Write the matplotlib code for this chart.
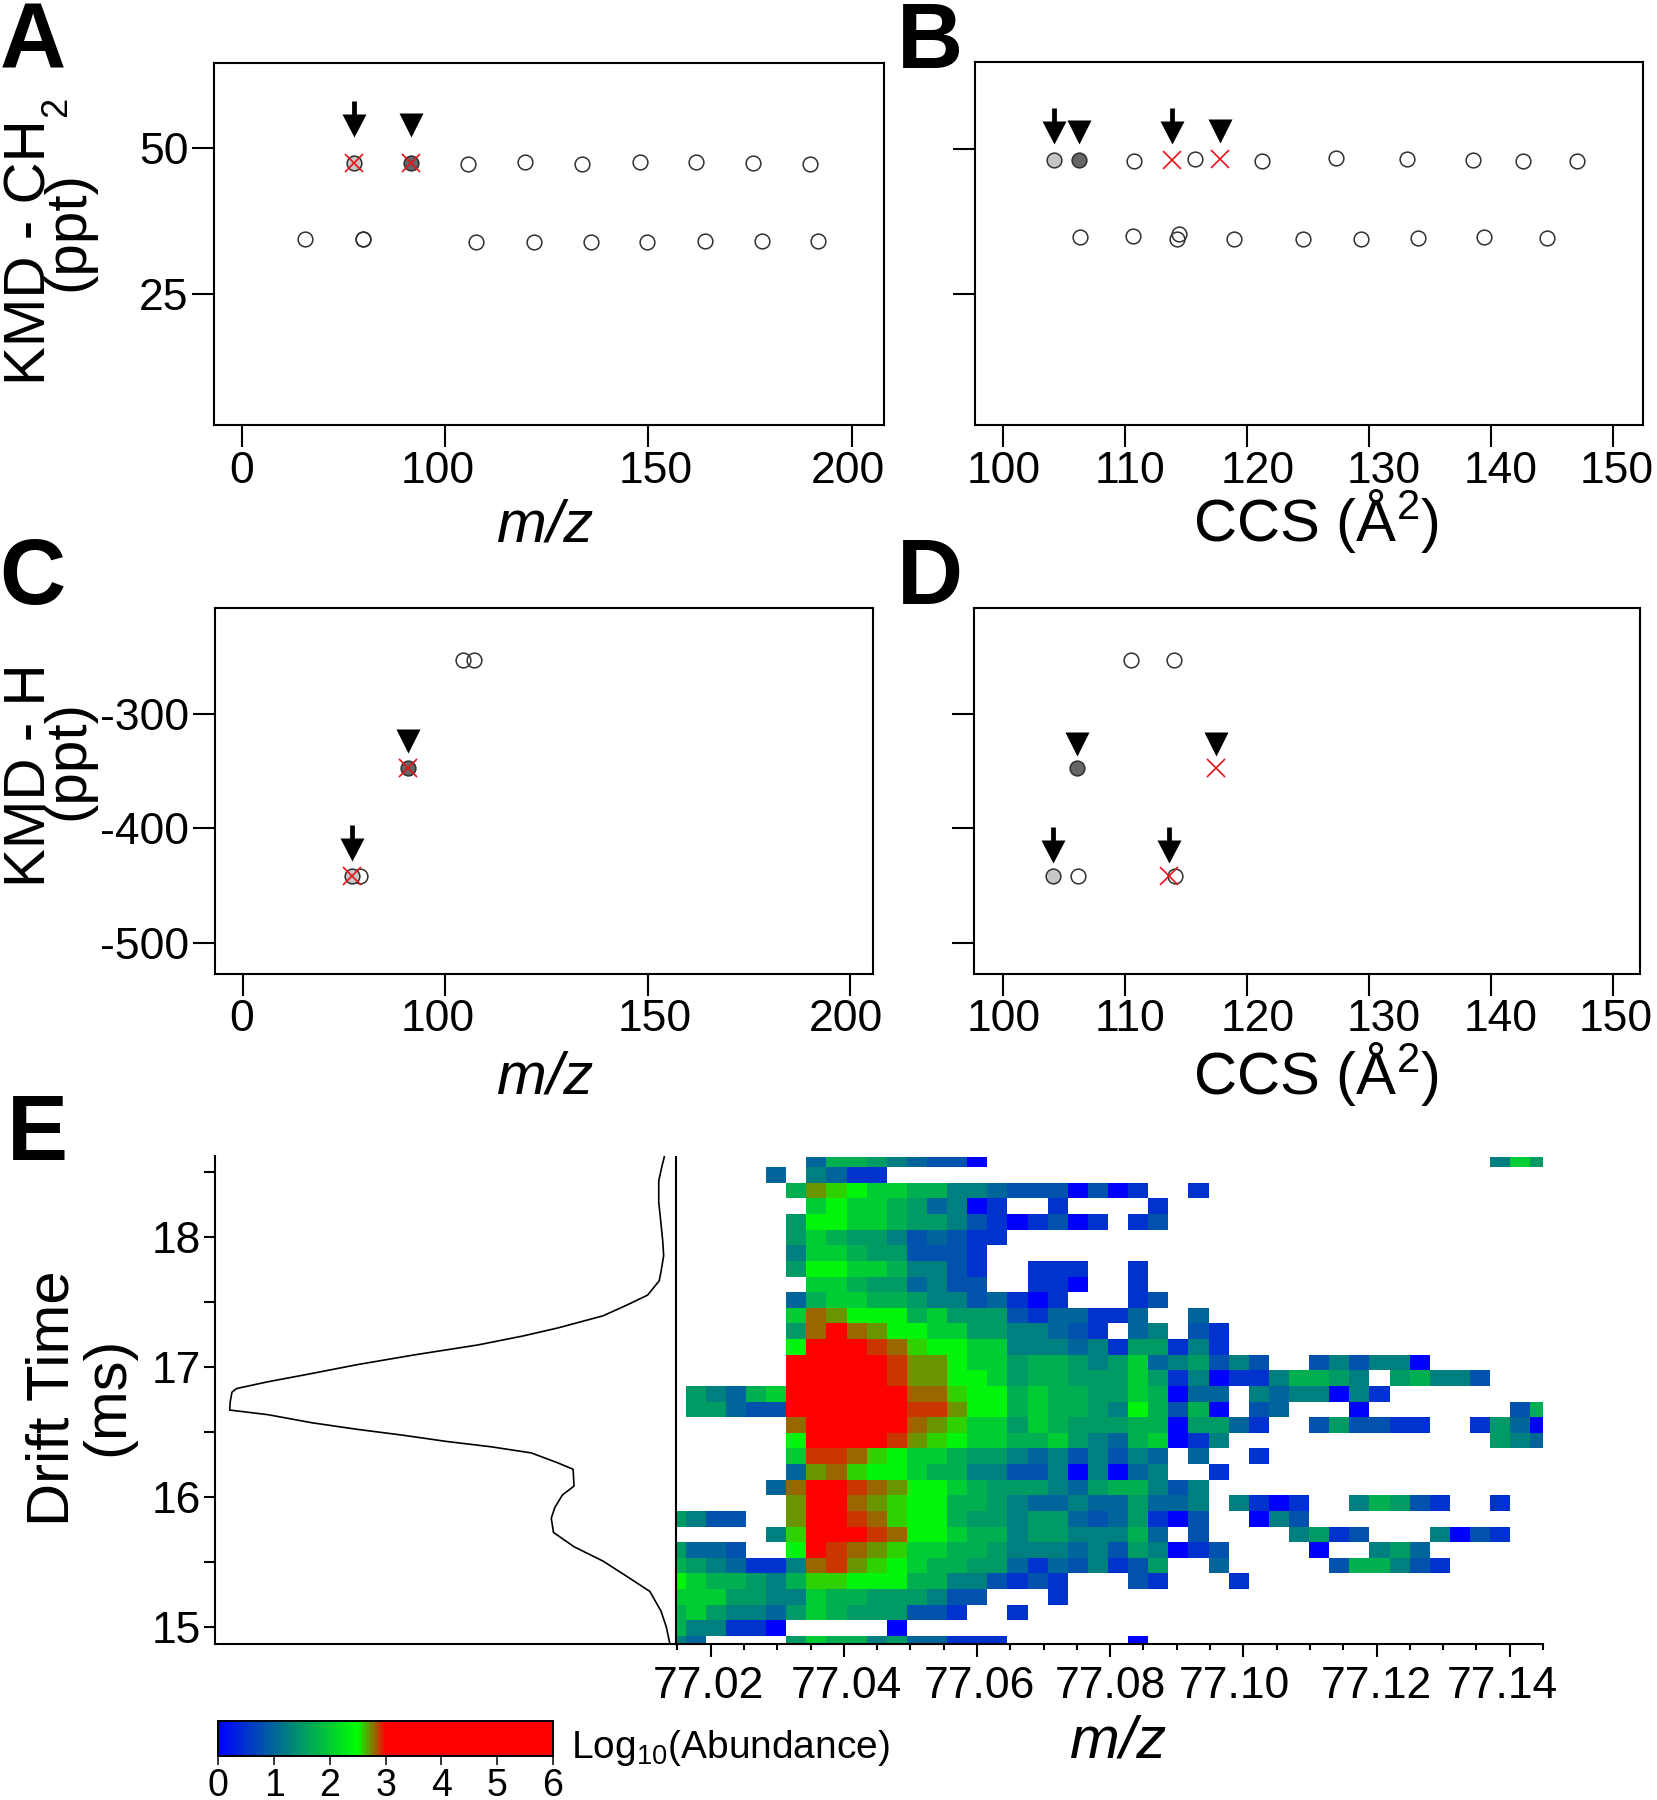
import numpy as np
import matplotlib
matplotlib.use('Agg')
import matplotlib.pyplot as plt
from matplotlib.colors import LinearSegmentedColormap
from matplotlib.path import Path
from matplotlib.transforms import offset_copy, ScaledTranslation

W, H = 1658, 1800

# panel A, KMD(CH2) vs m/z
A_OPEN_MZ = [105.5, 119.6, 133.7, 147.8, 161.7, 175.8, 189.9,
             65.5, 79.6, 79.6, 107.6, 121.7, 135.8, 149.7, 163.8, 177.9, 191.8]
A_OPEN_KMD = [47.4, 47.65, 47.4, 47.75, 47.75, 47.5, 47.35,
              34.4, 34.45, 34.45, 33.9, 33.9, 33.95, 33.9, 34.05, 34.15, 34.15]
A_LIGHT = (77.5, 47.5)
A_DARK = (91.5, 47.5)
A_CROSS_MZ = [77.5, 91.5]
A_CROSS_KMD = [47.5, 47.5]

# panel B, KMD(CH2) vs CCS
B_OPEN_CCS = [110.7, 115.7, 121.2, 127.3, 133.1, 138.5, 142.6, 147.05,
              106.27, 110.63, 114.4, 114.2, 118.95, 124.6, 129.3, 133.97, 139.4, 144.6]
B_OPEN_KMD = [47.9, 48.25, 47.9, 48.3, 48.25, 47.95, 47.8, 47.9,
              34.9, 35.0, 35.3, 34.45, 34.5, 34.55, 34.5, 34.65, 34.75, 34.65]
B_LIGHT = (104.17, 47.95)
B_DARK = (106.2, 48.1)
B_CROSS_CCS = [113.84, 117.76]
B_CROSS_KMD = [48.1, 48.2]

# panel C, KMD(H) vs m/z
C_OPEN_MZ = [104.5, 107.0, 78.9]
C_OPEN_KMD = [-253.4, -253.4, -441.6]
C_LIGHT = (76.9, -441.6)
C_DARK = (90.8, -347.4)
C_CROSS_MZ = [76.9, 90.8]
C_CROSS_KMD = [-441.6, -347.4]

# panel D, KMD(H) vs CCS
D_OPEN_CCS = [110.5, 113.97, 106.1, 114.07]
D_OPEN_KMD = [-253.4, -253.4, -441.6, -441.6]
D_LIGHT = (104.07, -441.6)
D_DARK = (106.04, -347.4)
D_CROSS_CCS = [113.58, 117.43]
D_CROSS_KMD = [-441.6, -347.4]

# panel E, mobilogram: drift time (ms) and relative intensity
DRIFT = [18.623, 18.541, 18.431, 18.267, 18.102, 17.965, 17.855, 17.732, 17.663, 17.553,
         17.471, 17.394, 17.301, 17.238, 17.170, 17.095, 17.019, 16.945, 16.887, 16.835,
         16.807, 16.731, 16.670, 16.635, 16.572, 16.522, 16.478, 16.429, 16.388, 16.341,
         16.264, 16.215, 16.086, 16.018, 15.922, 15.839, 15.730, 15.620, 15.510, 15.400,
         15.277, 15.126, 15.003, 14.874]
INTENSITY = [2.5, 3.1, 3.8, 3.8, 3.3, 2.9, 2.7, 3.3, 3.7, 6.3,
             11.3, 16.3, 26.4, 34.4, 44.4, 58.4, 71.4, 82.5, 91.5, 98.5,
             99.5, 99.9, 100, 91.5, 81.5, 71.4, 61.4, 51.4, 41.4, 32.4,
             26.4, 23.0, 22.8, 25.4, 27.1, 27.9, 27.4, 22.8, 16.3, 11.3,
             5.8, 3.3, 2.1, 1.3]

# heat map: log10 abundance read by colour, one letter per cell
LEVELS = {'a': 0.0, 'b': 0.5, 'c': 0.8, 'd': 1.0, 'e': 1.25, 'f': 1.5, 'g': 1.72,
          'h': 2.0, 'i': 2.4, 'j': 2.6, 'k': 2.7, 'l': 2.8, 'm': 2.9, 'n': 3.5}
# each row, top to bottom: (first column, letters)
HEAT_ROWS = [
    [(7, "dggfedcca"), (41, "ehf")],
    [(5, "d.edbb")],
    [(6, "gkjihhggeedcccacab"), (26, "b")],
    [(7, "hihhgfdeab"), (19, "b"), (24, "b")],
    [(6, "fiihhgffecbabcab.bc")],
    [(6, "fhgffecdcbb")],
    [(6, "ehhgffcccb")],
    [(6, "fiihhgeecb"), (18, "bbb"), (23, "b")],
    [(7, "hhgffdecc"), (18, "bba"), (23, "b")],
    [(6, "dghhggfeecdbab"), (23, "bc")],
    [(6, "hlkiiighfffcbddbbd"), (26, "d")],
    [(6, "flnlkiihhffeedcb.de"), (26, "cb")],
    [(6, "innnmljiihheeedebffbeb")],
    [(6, "nnnnnmkkihhfggfefhdefcec"), (32, "ceceea")],
    [(6, "nnnnnmkkiihfggfffhfbeabbeggfe.fgeec")],
    [(1, "fedghnnnnnnlljiighggffhgadd.edeeaeb")],
    [(1, "ffdccnnnnnnmmkiighggfeigcga.cd"), (34, "a"), (42, "cg")],
    [(6, "lnnnnnlkjhhfhgfffggaffdb"), (32, "cfccbb"), (40, "bfda")],
    [(6, "innnnmkjihhgghfedghabe"), (41, "fed")],
    [(6, "hmmljihhgffedececed.d"), (29, "b")],
    [(6, "dkljiihggeecceaeade"), (27, "b")],
    [(5, "dlnnmlkiihgfffedfggece")],
    [(6, "knnlkjiiggfeddeddfdde.ebab"), (34, "egfcb"), (41, "b")],
    [(0, "fecc"), (6, "knnmljiigffeffdcdfbac..aec")],
    [(5, "ejnnnmliihggeffeeegd.c"), (31, "efbc"), (38, "eacb")],
    [(0, "fddc"), (6, "inmlkjhhggfeeedecfeabc"), (32, "a"), (35, "efd")],
    [(0, "gfedbbelmkjihggffdbdcebcf"), (27, "d"), (33, "cggecb")],
    [(0, "ihggfegjjiiiggeecbcb"), (23, "cb"), (28, "b")],
    [(0, "hhhffeehggfffecc"), (19, "b")],
    [(0, "ghfeedfhgfffccb"), (17, "b")],
    [(0, "geebba"), (11, "a")],
    [(0, "ed"), (6, "fhggefddbbb"), (23, "a")],
]
N_COLS = 44
MZ_FIRST = 77.01323
MZ_STEP = 0.00302
DRIFT_FIRST = 18.6546
DRIFT_STEP = 0.12

plt.rcParams['font.family'] = 'Liberation Sans'
plt.rcParams['mathtext.fontset'] = 'custom'
plt.rcParams['mathtext.rm'] = 'Liberation Sans'
plt.rcParams['mathtext.it'] = 'Liberation Sans:italic'
plt.rcParams['mathtext.default'] = 'regular'

LW = 1.5
TICK_FS = 32
LABEL_FS = 42
FILL_LIGHT = '#c6c6c6'
FILL_DARK = '#646668'
EDGE = '#303030'
RED = '#e8111c'

fig = plt.figure(figsize=(W / 100, H / 100), dpi=100)


def ax_px(left, top, right, bottom):
    return fig.add_axes([left / W, 1 - bottom / H, (right - left) / W, (bottom - top) / H])


def text_px(x, y, s, **kw):
    fig.text(x / W, 1 - y / H, s, **kw)


def rot_label(x, y, s, size=LABEL_FS):
    text_px(x, y, s, fontsize=size, rotation=90, rotation_mode='anchor',
            ha='center', va='baseline')


def nudge_labels(ax, shifts):
    # the tick labels sit a few pixels off their ticks in the original figure
    for lab, dx in zip(ax.get_xticklabels(), shifts):
        lab.set_transform(lab.get_transform() + ScaledTranslation(dx / 100, 0, fig.dpi_scale_trans))


# arrow and triangle shapes, in pixels around their centre
ARROW = Path([(-2.4, 18), (2.4, 18), (2.4, 5), (12, 5), (0, -18), (-12, 5), (-2.4, 5), (-2.4, 18)], closed=True)
TRIANGLE = Path([(-12, 12), (12, 12), (0, -12), (-12, 12)], closed=True)


def pointer(ax, point, shape, height, gap):
    tr = offset_copy(ax.transData, fig=fig, x=0, y=gap + height / 2, units='dots')
    ax.plot([point[0]], [point[1]], marker=shape, ms=height * 0.72, mfc='black', mec='none',
            transform=tr, ls='none', zorder=5, clip_on=False)


def scatter_panel(box, xopen, yopen, light, dark, xcross, ycross, arrows, triangles, gap,
                  xlim, ylim, xticks, xlabels, shifts, yticks, ylabels):
    ax = ax_px(*box)
    ax.plot(xopen, yopen, 'o', ms=10.6, mfc='none', mec=EDGE, mew=1.1, zorder=2)
    ax.plot(*light, 'o', ms=10.6, mfc=FILL_LIGHT, mec=EDGE, mew=1.1, zorder=3)
    ax.plot(*dark, 'o', ms=10.6, mfc=FILL_DARK, mec=EDGE, mew=1.1, zorder=3)
    ax.plot(xcross, ycross, 'x', ms=12.5, mec=RED, mew=1.2, zorder=4)
    for p in arrows:
        pointer(ax, p, ARROW, 36, gap)
    for p in triangles:
        pointer(ax, p, TRIANGLE, 24, gap)
    ax.set_xlim(*xlim)
    ax.set_ylim(*ylim)
    ax.set_xticks(xticks, xlabels)
    ax.set_yticks(yticks, ylabels)
    ax.tick_params(length=15.5, width=LW, labelsize=TICK_FS, pad=3)
    for s in ax.spines.values():
        s.set_linewidth(LW)
    nudge_labels(ax, shifts)
    return ax


MZ_TICKS = [50, 100, 150, 200]
MZ_LABELS = ['0', '100', '150', '200']
MZ_SHIFTS = [-1, -8, 7, -4]
CCS_TICKS = [100, 110, 120, 130, 140, 150]
CCS_LABELS = ['100', '110', '120', '130', '140', '150']
CCS_SHIFTS = [0, 5, 10, 14, 9, 3]

scatter_panel((214.3, 62.7, 884.4, 425.3), A_OPEN_MZ, A_OPEN_KMD, A_LIGHT, A_DARK,
              A_CROSS_MZ, A_CROSS_KMD, [A_LIGHT], [A_DARK], 26,
              (43.08, 208.1), (2.5, 64.7), MZ_TICKS, MZ_LABELS, MZ_SHIFTS, [25, 50], ['25', '50'])
scatter_panel((974.9, 61.7, 1643, 425.3), B_OPEN_CCS, B_OPEN_KMD, B_LIGHT, B_DARK,
              B_CROSS_CCS, B_CROSS_KMD, [B_LIGHT, (B_CROSS_CCS[0], B_CROSS_KMD[0])],
              [B_DARK, (B_CROSS_CCS[1], B_CROSS_KMD[1])], 16,
              (97.67, 152.44), (2.5, 64.9), CCS_TICKS, CCS_LABELS, CCS_SHIFTS, [25, 50], ['', ''])
scatter_panel((215, 608.3, 873, 973.7), C_OPEN_MZ, C_OPEN_KMD, C_LIGHT, C_DARK,
              C_CROSS_MZ, C_CROSS_KMD, [C_LIGHT], [C_DARK], 15,
              (43.1, 205.7), (-526.9, -208), MZ_TICKS, MZ_LABELS, MZ_SHIFTS,
              [-300, -400, -500], ['-300', '-400', '-500'])
scatter_panel((974, 608.3, 1640, 973.7), D_OPEN_CCS, D_OPEN_KMD, D_LIGHT, D_DARK,
              D_CROSS_CCS, D_CROSS_KMD, [D_LIGHT, (D_CROSS_CCS[0], D_CROSS_KMD[0])],
              [D_DARK, (D_CROSS_CCS[1], D_CROSS_KMD[1])], 12.5,
              (97.6, 152.2), (-526.9, -208), CCS_TICKS, CCS_LABELS, CCS_SHIFTS,
              [-300, -400, -500], ['', '', ''])

# panel E, mobilogram on the left
ax_mob = ax_px(215, 1155.7, 675.7, 1644)
ax_mob.plot(INTENSITY, DRIFT, color='black', lw=1.2)
ax_mob.set_xlim(103.3, 0)
ax_mob.set_ylim(14.873, 18.624)
ax_mob.set_xticks([])
ax_mob.set_yticks([15, 16, 17, 18], ['15', '16', '17', '18'])
ax_mob.set_yticks([15.5, 16.5, 17.5, 18.5], minor=True)
ax_mob.tick_params(axis='y', which='both', length=8, width=LW, labelsize=TICK_FS, pad=2)
ax_mob.spines['top'].set_visible(False)
ax_mob.spines['right'].set_visible(False)
for s in ['left', 'bottom']:
    ax_mob.spines[s].set_linewidth(LW)

# panel E, heat map
cells = np.full((len(HEAT_ROWS), N_COLS), np.nan)
for r, row in enumerate(HEAT_ROWS):
    for start, letters in row:
        for i, ch in enumerate(letters):
            if ch != '.':
                cells[r, start + i] = LEVELS[ch]

cmap = LinearSegmentedColormap.from_list('abund', [(0, '#0000ff'), (2.5 / 6, '#00ff00'),
                                                   (3 / 6, '#ff0000'), (1, '#ff0000')])
cmap.set_bad('white')
x_edges = MZ_FIRST + MZ_STEP * np.arange(N_COLS + 1)
y_edges = DRIFT_FIRST - DRIFT_STEP * np.arange(len(HEAT_ROWS) + 1)

ax_heat = ax_px(675.7, 1157.3, 1543, 1644)
pcm = ax_heat.pcolormesh(x_edges, y_edges, np.ma.masked_invalid(cells), cmap=cmap, vmin=0, vmax=6,
                         edgecolors='none', antialiased=False, rasterized=True)
ax_heat.set_xlim(77.01475, 77.14475)
ax_heat.set_ylim(14.873, 18.611)
ax_heat.set_yticks([])
ax_heat.set_xticks([77.02, 77.04, 77.06, 77.08, 77.10, 77.12, 77.14],
                   ['77.02', '77.04', '77.06', '77.08', '77.10', '77.12', '77.14'])
ax_heat.set_xticks(np.arange(77.015, 77.1451, 0.005), minor=True)
ax_heat.tick_params(axis='x', which='major', length=9.5, width=LW, labelsize=TICK_FS, pad=6)
ax_heat.tick_params(axis='x', which='minor', length=4.5, width=LW)
nudge_labels(ax_heat, [-2, 3, 2, 0, -9, 0, -7])
ax_heat.spines['top'].set_visible(False)
ax_heat.spines['right'].set_visible(False)
for s in ['left', 'bottom']:
    ax_heat.spines[s].set_linewidth(LW)

# colour bar
cax = ax_px(218.4, 1721.3, 552.9, 1756.3)
cb = fig.colorbar(pcm, cax=cax, orientation='horizontal')
cb.set_ticks([0, 1, 2, 3, 4, 5, 6])
cb.ax.tick_params(length=6.5, width=1.1, labelsize=27, pad=2)
cb.outline.set_linewidth(1.4)
text_px(571, 1758, 'Log$_{10}$(Abundance)', fontsize=28, ha='left', va='baseline')

# axis titles
rot_label(46, 252, 'KMD - CH')
rot_label(66, 107, '2', size=26)
rot_label(83, 231, '(ppt)')
rot_label(45, 775, 'KMD - H')
rot_label(83, 760, '(ppt)')
rot_label(69, 1398, 'Drift Time', size=43)
rot_label(122.8, 1396, '(ms)', size=43)

text_px(545, 541, 'm/z', fontsize=LABEL_FS + 1, style='italic', ha='center', va='baseline')
text_px(1316, 541, 'CCS (Å$^{2}$)', fontsize=LABEL_FS + 1, ha='center', va='baseline')
text_px(545, 1094, 'm/z', fontsize=LABEL_FS + 1, style='italic', ha='center', va='baseline')
text_px(1316, 1094, 'CCS (Å$^{2}$)', fontsize=LABEL_FS + 1, ha='center', va='baseline')
text_px(1118, 1757, 'm/z', fontsize=LABEL_FS + 1, style='italic', ha='center', va='baseline')

# panel letters
for x, y, s in [(0, 68, 'A'), (897, 68, 'B'), (-1, 604, 'C'), (897, 604, 'D'), (7, 1160, 'E')]:
    text_px(x, y, s, fontsize=66, fontweight='bold', ha='left', va='baseline')

fig.savefig('out.png', dpi=100, facecolor='white')
